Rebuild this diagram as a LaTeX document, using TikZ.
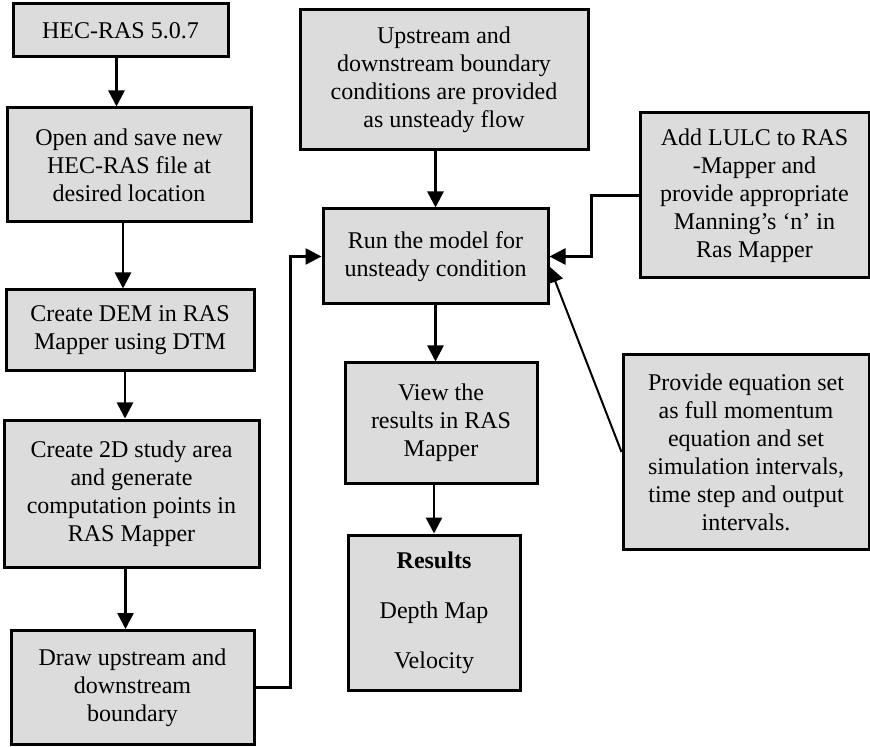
\documentclass[tikz,border=0pt]{standalone}
\usepackage{fontspec}
\setmainfont{Liberation Serif}
\usetikzlibrary{arrows.meta}
\definecolor{boxgray}{HTML}{DCDCDC}
\begin{document}
\begin{tikzpicture}[x=0.5pt,y=-0.5pt,
  box/.style={draw, line width=1.5pt, fill=boxgray, align=center, inner sep=0pt,
    font=\fontsize{12}{14}\selectfont},
  flow/.style={line width=1.3pt, -{Triangle[width=8pt,length=8pt]}}]
\useasboundingbox (0,0) rectangle (870,747);
% left column
\node[box, minimum width=107.5pt, minimum height=26.5pt] (hec) at (120.5,30.5) {HEC-RAS 5.0.7};
\node[box, minimum width=122pt, minimum height=57pt] (open) at (129,165) {Open and save new\\HEC-RAS file at\\desired location};
\node[box, minimum width=124pt, minimum height=40.5pt] (dem) at (130,330.5) {Create DEM in RAS\\Mapper using DTM};
\node[box, minimum width=127.5pt, minimum height=73.5pt] (area) at (131.5,493.5) {Create 2D study area\\and generate\\computation points in\\RAS Mapper};
\node[box, minimum width=121.5pt, minimum height=57pt] (bound) at (132.5,687.5) {Draw upstream and\\downstream\\boundary};
% middle column
\node[box, minimum width=144pt, minimum height=70pt] (upstr) at (444,80) {Upstream and\\downstream boundary\\conditions are provided\\as unsteady flow};
\node[box, minimum width=112.5pt, minimum height=47.5pt] (run) at (435.5,256.5) {Run the model for\\unsteady condition};
\node[box, minimum width=96pt, minimum height=60pt] (view) at (441,423) {View the\\results in RAS\\Mapper};
\node[box, minimum width=86pt, minimum height=77.5pt] (res) at (434,612.5) {\textbf{Results}\\[11pt]Depth Map\\[11pt]Velocity};
% right column
\node[box, minimum width=114.5pt, minimum height=82.5pt] (lulc) at (754.5,195.5) {Add LULC to RAS\\-Mapper and\\provide appropriate\\Manning’s ‘n’ in\\Ras Mapper};
\node[box, minimum width=123pt, minimum height=97pt] (eqn) at (746,452) {Provide equation set\\as full momentum\\equation and set\\simulation intervals,\\time step and output\\intervals.};
% connectors
\draw[flow] ([xshift=-2pt]hec.south) -- ([xshift=-2pt]hec.south |- open.north);
\draw[flow] ([xshift=-3pt]open.south) -- ([xshift=-3pt]open.south |- dem.north);
\draw[flow] ([xshift=-2.5pt]dem.south) -- ([xshift=-2.5pt]dem.south |- area.north);
\draw[flow] ([xshift=-3pt]area.south) -- ([xshift=-3pt]area.south |- bound.north);
\draw[flow] (bound.east) -- ++(35,0) |- (run.west);
\draw[flow] (run.north |- upstr.south) -- (run.north);
\draw[flow] (run.south) -- (run.south |- view.north);
\draw[flow] (res.north |- view.south) -- (res.north);
\draw[flow] (lulc.west) -- ++(-47,0) |- (run.east);
\draw[flow, line width=1pt] (eqn.west) -- ([yshift=-5pt]run.east);
\end{tikzpicture}
\end{document}
